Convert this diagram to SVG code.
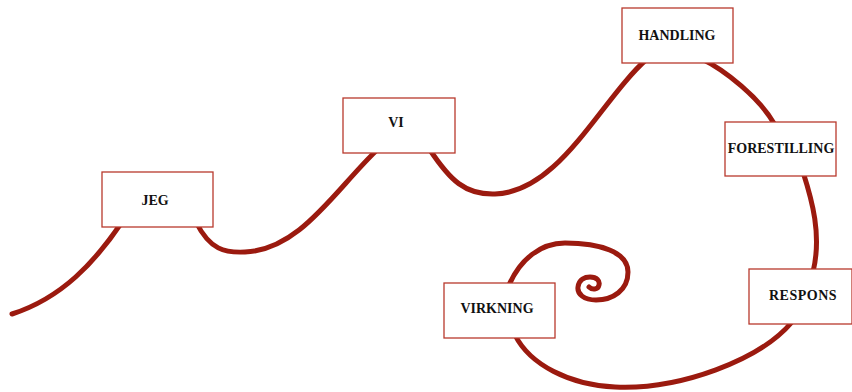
<svg xmlns="http://www.w3.org/2000/svg" width="852" height="392" viewBox="0 0 852 392">
  <style>
    .curve { fill: none; stroke: #9b1a0f; stroke-width: 5; stroke-linecap: round; stroke-linejoin: round; }
    .box { fill: #ffffff; stroke: #b8392d; stroke-width: 1.3; }
    .label { font-family: "Liberation Serif", "DejaVu Serif", serif; font-weight: bold; font-size: 14px; fill: #111111; text-anchor: middle; }
  </style>
  <rect width="852" height="392" fill="#ffffff"/>

  <!-- the winding line that runs beneath every box -->
  <g id="connectors">
    <path class="curve" d="M12,314 C62,298 95,262 122,222 L196,222 C210,250 225,253 245,252 C300,250 335,190 377,150 L430,150 C450,180 465,195 495,194 C560,192 600,100 648,58 L700,58 C725,70 760,98 775,125 L803,172 C812,200 822,235 813,272 L792,322 C760,360 680,390 615,387 C570,385 530,365 515,335 L509,285 C520,260 540,243 565,243 C600,243 628,252 628,272 C628,290 613,300 596,300 C584,300 577,294 578,287 C579,279 585,277 590,277 C597,277 600,281 599,285 C598,290 592,290 589,287"/>
  </g>

  <g id="jeg">
    <rect class="box" x="102" y="172" width="111" height="55"/>
    <text class="label" x="155" y="205">JEG</text>
  </g>
  <g id="vi">
    <rect class="box" x="343" y="98" width="112" height="55"/>
    <text class="label" x="396" y="127">VI</text>
  </g>
  <g id="handling">
    <rect class="box" x="622" y="8" width="111" height="55"/>
    <text class="label" x="677" y="40">HANDLING</text>
  </g>
  <g id="forestilling">
    <rect class="box" x="725" y="122" width="111" height="54"/>
    <text class="label" x="781" y="153">FORESTILLING</text>
  </g>
  <g id="respons">
    <rect class="box" x="749" y="269" width="103" height="55"/>
    <text class="label" x="803" y="300" letter-spacing="0.5">RESPONS</text>
  </g>
  <g id="virkning">
    <rect class="box" x="444" y="283" width="111" height="55"/>
    <text class="label" x="497" y="313">VIRKNING</text>
  </g>
</svg>
